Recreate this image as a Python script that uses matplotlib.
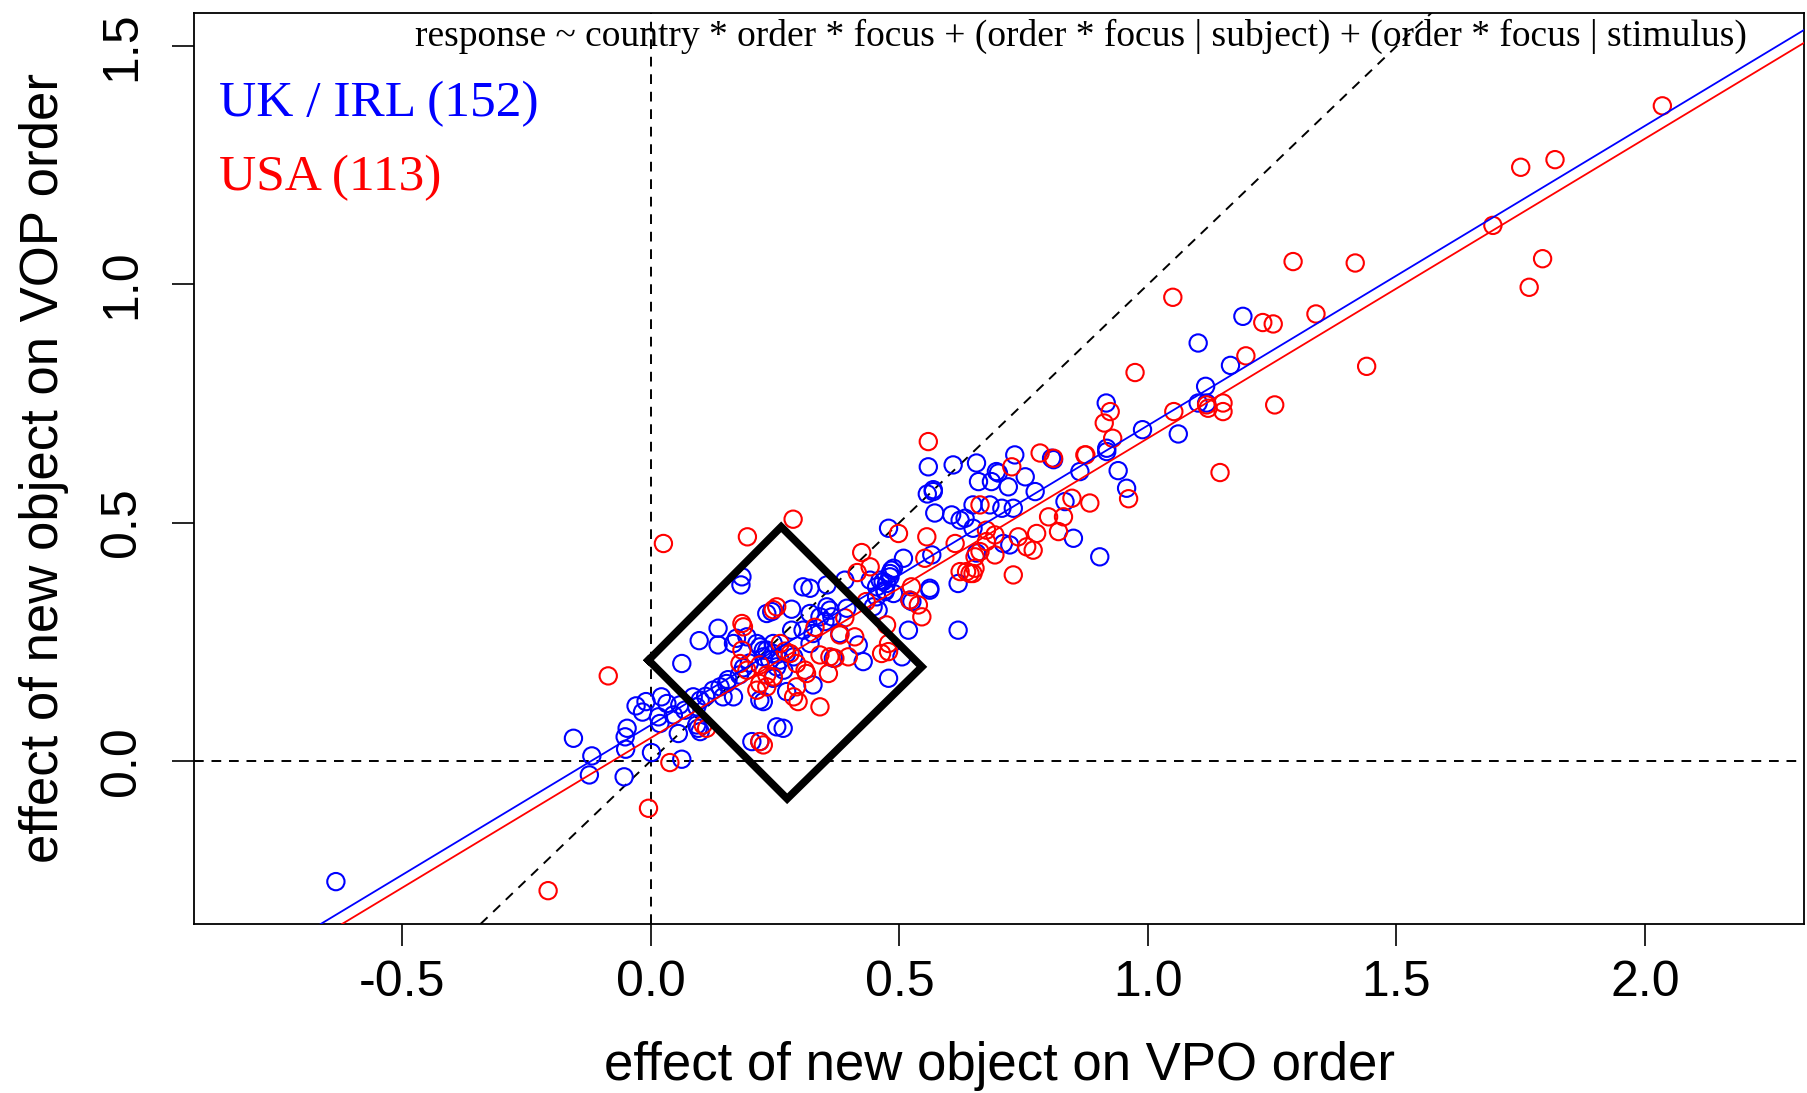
import matplotlib
matplotlib.use("Agg")
import matplotlib.pyplot as plt
import numpy as np

# UK / IRL subjects (blue)
blue_x = [-0.634, -0.156, -0.119, -0.124, -0.054, -0.051, -0.052, -0.048, -0.030, -0.017,
          -0.010, 0.001, 0.018, 0.021, 0.032, 0.015, 0.055, 0.045, 0.062, 0.062,
          0.058, 0.068, 0.085, 0.099, 0.092, 0.095, 0.099, 0.092, 0.097, 0.135,
          0.135, 0.125, 0.139, 0.152, 0.145, 0.166, 0.166, 0.193, 0.213, 0.219,
          0.233, 0.246, 0.226, 0.226, 0.203, 0.253, 0.110, 0.155, 0.178, 0.186,
          0.198, 0.233, 0.283, 0.306, 0.320, 0.354, 0.390, 0.320, 0.340, 0.350,
          0.360, 0.364, 0.283, 0.306, 0.326, 0.320, 0.380, 0.226, 0.246, 0.239,
          0.260, 0.273, 0.287, 0.253, 0.267, 0.246, 0.219, 0.273, 0.326, 0.367,
          0.417, 0.427, 0.505, 0.478, 0.266, 0.219, 0.441, 0.454, 0.461, 0.474,
          0.471, 0.484, 0.481, 0.488, 0.454, 0.447, 0.457, 0.521, 0.561, 0.518,
          0.618, 0.618, 0.183, 0.181, 0.243, 0.354, 0.394, 0.172, 0.558, 0.608,
          0.655, 0.732, 0.806, 0.810, 0.695, 0.699, 0.659, 0.685, 0.719, 0.753,
          0.568, 0.568, 0.773, 0.863, 0.833, 0.850, 0.903, 0.648, 0.682, 0.706,
          0.729, 0.571, 0.605, 0.622, 0.632, 0.648, 0.478, 0.709, 0.722, 0.655,
          0.565, 0.508, 0.488, 0.481, 0.467, 0.471, 0.561, 0.525, 1.191, 1.101,
          1.166, 1.116, 1.101, 1.118, 0.916, 0.989, 1.061, 0.917, 0.917, 0.940,
          0.957, 0.556]
blue_y = [-0.254, 0.047, 0.010, -0.030, -0.034, 0.024, 0.050, 0.068, 0.115, 0.102,
          0.124, 0.017, 0.078, 0.134, 0.120, 0.092, 0.057, 0.096, 0.003, 0.204,
          0.117, 0.106, 0.134, 0.127, 0.113, 0.068, 0.061, 0.075, 0.252, 0.278,
          0.243, 0.148, 0.155, 0.162, 0.134, 0.134, 0.246, 0.260, 0.246, 0.239,
          0.232, 0.246, 0.218, 0.124, 0.040, 0.071, 0.135, 0.170, 0.180, 0.195,
          0.205, 0.309, 0.318, 0.365, 0.362, 0.369, 0.379, 0.309, 0.302, 0.292,
          0.316, 0.302, 0.274, 0.274, 0.267, 0.246, 0.267, 0.232, 0.225, 0.211,
          0.211, 0.225, 0.218, 0.197, 0.190, 0.173, 0.127, 0.145, 0.159, 0.215,
          0.243, 0.208, 0.218, 0.173, 0.068, 0.040, 0.379, 0.365, 0.379, 0.372,
          0.355, 0.400, 0.386, 0.351, 0.344, 0.323, 0.316, 0.337, 0.358, 0.274,
          0.372, 0.274, 0.386, 0.369, 0.313, 0.323, 0.320, 0.257, 0.617, 0.621,
          0.625, 0.642, 0.635, 0.632, 0.607, 0.604, 0.586, 0.586, 0.575, 0.596,
          0.569, 0.565, 0.565, 0.607, 0.544, 0.467, 0.428, 0.537, 0.537, 0.530,
          0.530, 0.520, 0.516, 0.505, 0.509, 0.488, 0.488, 0.456, 0.453, 0.436,
          0.432, 0.425, 0.404, 0.393, 0.376, 0.358, 0.362, 0.334, 0.933, 0.877,
          0.830, 0.786, 0.751, 0.751, 0.751, 0.695, 0.686, 0.656, 0.649, 0.609,
          0.572, 0.560]

# USA subjects (red)
red_x = [-0.207, -0.086, -0.005, 0.038, 0.105, 0.112, 0.025, 0.183, 0.186, 0.179,
         0.183, 0.193, 0.219, 0.233, 0.213, 0.219, 0.226, 0.246, 0.253, 0.246,
         0.194, 0.286, 0.424, 0.441, 0.219, 0.233, 0.260, 0.280, 0.293, 0.313,
         0.293, 0.287, 0.296, 0.340, 0.340, 0.360, 0.370, 0.397, 0.380, 0.357,
         0.464, 0.478, 0.474, 0.524, 0.521, 0.538, 0.545, 0.622, 0.642, 0.652,
         0.558, 0.783, 0.810, 0.873, 0.726, 0.662, 0.847, 0.883, 0.800, 0.830,
         0.820, 0.776, 0.555, 0.612, 0.675, 0.692, 0.675, 0.662, 0.692, 0.652,
         0.635, 0.648, 0.739, 0.756, 0.769, 0.729, 0.551, 0.498, 0.478, 1.292,
         1.417, 1.050, 0.974, 1.231, 1.252, 1.338, 1.197, 1.440, 1.255, 1.052,
         1.118, 1.121, 1.151, 1.151, 0.924, 0.912, 0.929, 0.875, 0.961, 1.145,
         1.794, 1.767, 1.750, 1.819, 1.694, 2.035, 0.415, 0.433, 0.270, 0.310,
         0.390, 0.410, 0.330]
red_y = [-0.273, 0.178, -0.100, -0.004, 0.075, 0.068, 0.456, 0.288, 0.281, 0.204,
         0.232, 0.190, 0.162, 0.155, 0.148, 0.040, 0.033, 0.317, 0.323, 0.176,
         0.470, 0.507, 0.437, 0.407, 0.201, 0.180, 0.246, 0.225, 0.204, 0.183,
         0.155, 0.134, 0.124, 0.113, 0.222, 0.218, 0.215, 0.218, 0.264, 0.183,
         0.225, 0.246, 0.285, 0.365, 0.337, 0.327, 0.302, 0.397, 0.393, 0.404,
         0.670, 0.646, 0.635, 0.642, 0.617, 0.537, 0.551, 0.541, 0.512, 0.512,
         0.481, 0.477, 0.470, 0.456, 0.484, 0.474, 0.460, 0.439, 0.432, 0.428,
         0.397, 0.393, 0.470, 0.449, 0.442, 0.390, 0.425, 0.477, 0.229, 1.048,
         1.045, 0.973, 0.815, 0.920, 0.917, 0.938, 0.850, 0.828, 0.747, 0.733,
         0.747, 0.740, 0.751, 0.733, 0.733, 0.709, 0.677, 0.642, 0.550, 0.605,
         1.054, 0.994, 1.246, 1.262, 1.124, 1.375, 0.395, 0.334, 0.230, 0.190,
         0.300, 0.260, 0.280]

# fitted lines (intercept, slope)
blue_fit = (0.075, 0.629)
red_fit = (0.048, 0.629)

# highlighted region (diamond corners)
diamond_x = [-0.005, 0.262, 0.545, 0.274, -0.005]
diamond_y = [0.211, 0.491, 0.197, -0.080, 0.211]

legend_labels = ["UK / IRL (152)", "USA (113)"]
formula = "response ~ country * order * focus + (order * focus | subject) + (order * focus | stimulus)"

fig = plt.figure(figsize=(18.07, 10.93), dpi=100)
ax = fig.add_axes([194 / 1807, 1 - 924 / 1093, (1804 - 194) / 1807, (924 - 12.5) / 1093])

ax.axvline(0, color="black", ls=(0, (5, 4)), lw=1.4)
ax.axhline(0, color="black", ls=(0, (5, 4)), lw=1.4)
ax.axline((0, 0), slope=1, color="black", ls=(0, (5, 4)), lw=1.4)

ax.scatter(blue_x, blue_y, s=155, facecolors="none", edgecolors="blue", linewidths=1.5, zorder=3)
ax.scatter(red_x, red_y, s=155, facecolors="none", edgecolors="red", linewidths=1.5, zorder=3)

ax.axline((0, blue_fit[0]), slope=blue_fit[1], color="blue", lw=1.3, zorder=4)
ax.axline((0, red_fit[0]), slope=red_fit[1], color="red", lw=1.3, zorder=4)

ax.plot(diamond_x, diamond_y, color="black", lw=5.5, solid_joinstyle="miter", zorder=5)

ax.set_xlim(-0.9195, 2.320)
ax.set_ylim(-0.343, 1.571)

ax.set_xticks([-0.5, 0.0, 0.5, 1.0, 1.5, 2.0])
ax.set_yticks([0.0, 0.5, 1.0, 1.5])
ax.set_xticklabels(["-0.5", "0.0", "0.5", "1.0", "1.5", "2.0"], fontsize=36, family="Liberation Sans")
ax.set_yticklabels(["0.0", "0.5", "1.0", "1.5"], fontsize=36, family="Liberation Sans",
                   rotation=90, va="center")
ax.tick_params(direction="out", length=16, width=1.2)
ax.tick_params(axis="x", pad=10)
ax.tick_params(axis="y", pad=19)
for s in ax.spines.values():
    s.set_linewidth(1.3)

ax.set_xlabel("effect of new object on VPO order", fontsize=38, family="Liberation Sans", labelpad=25)
ax.set_ylabel("effect of new object on VOP order", fontsize=38, family="Liberation Sans", labelpad=22)

ax.text(2.205, 1.52, formula, ha="right", va="center", fontsize=27, family="Liberation Serif")
ax.text(-0.869, 1.38, legend_labels[0], color="blue", ha="left", va="center", fontsize=37,
        family="Liberation Serif")
ax.text(-0.869, 1.223, legend_labels[1], color="red", ha="left", va="center", fontsize=37,
        family="Liberation Serif")

fig.savefig("out.png", dpi=100)
